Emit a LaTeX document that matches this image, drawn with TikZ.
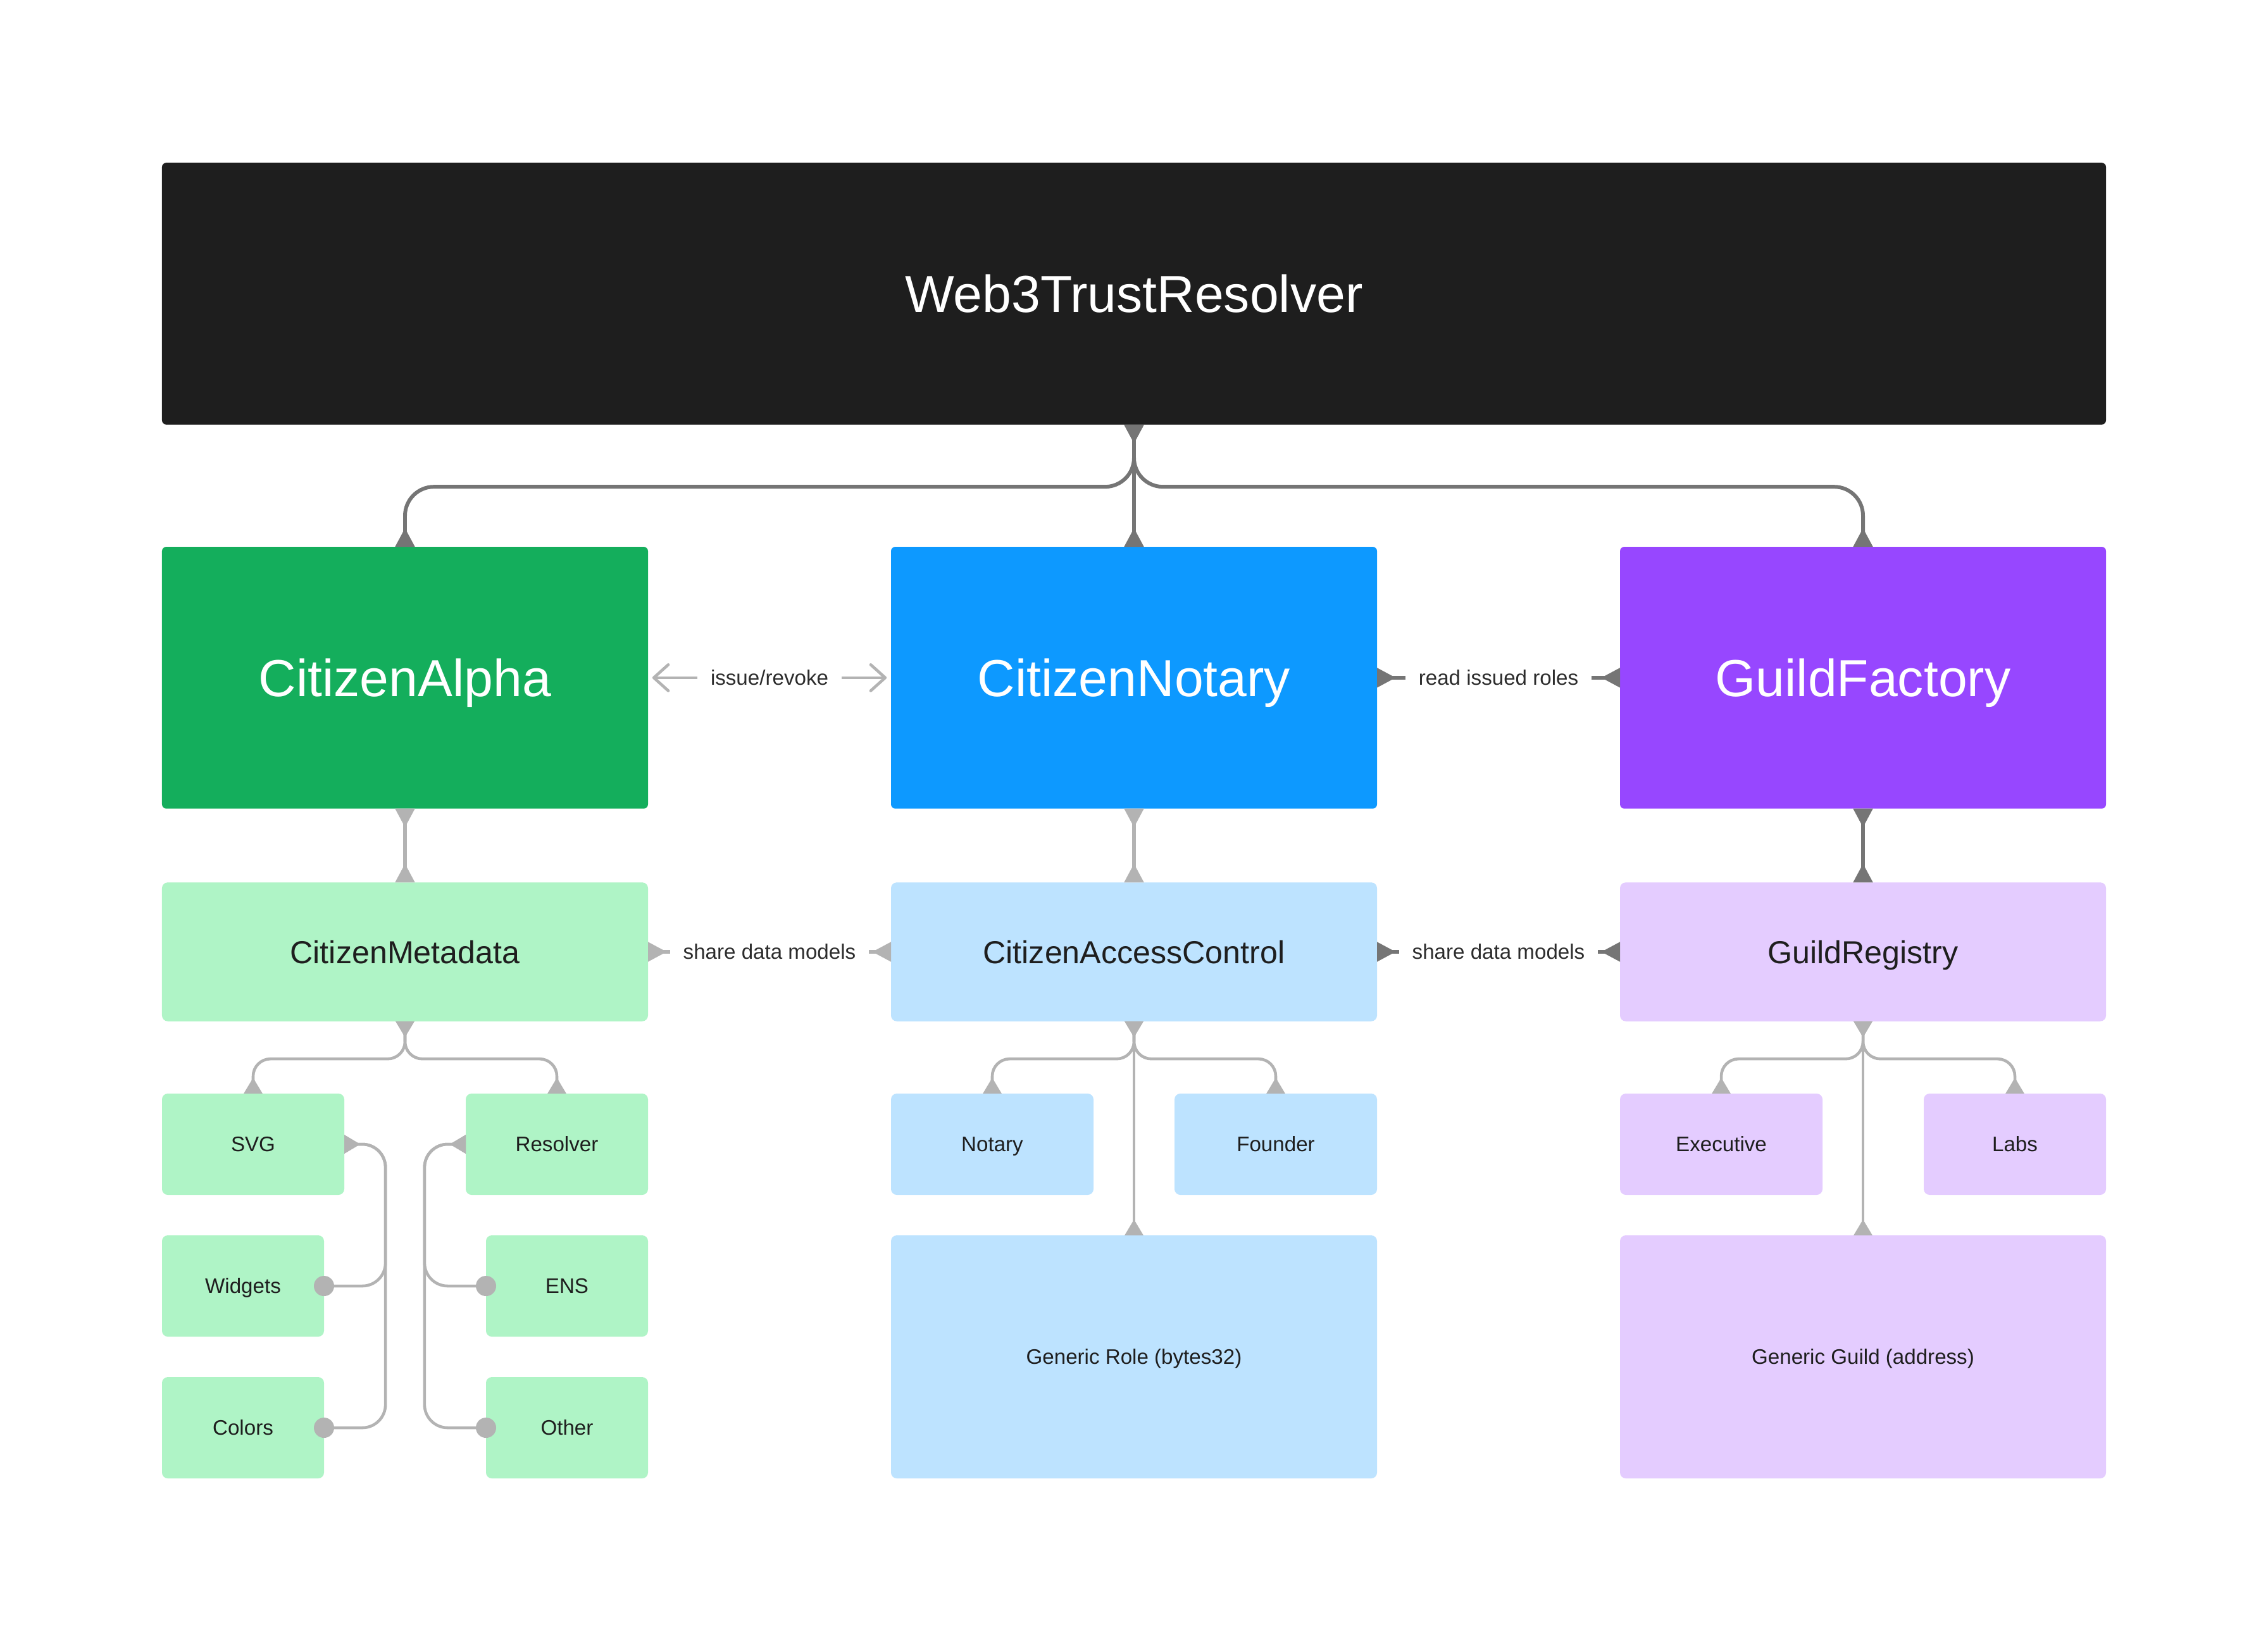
\documentclass[tikz,border=0pt]{standalone}
\usepackage{fontspec}
\setmainfont{Liberation Sans}
\usetikzlibrary{arrows.meta}

\definecolor{ink}{HTML}{1E1E1E}
\definecolor{alphagreen}{HTML}{14AE5C}
\definecolor{notaryblue}{HTML}{0D99FF}
\definecolor{guildpurple}{HTML}{9747FF}
\definecolor{palegreen}{HTML}{AFF4C6}
\definecolor{paleblue}{HTML}{BDE3FF}
\definecolor{palepurple}{HTML}{E4CCFF}
\definecolor{darkline}{HTML}{757575}
\definecolor{lightline}{HTML}{B3B3B3}
\definecolor{labeltext}{HTML}{2C2C2C}

\tikzset{
  tri/.tip={Triangle[reversed, length=2.6mm, width=2.6mm]},
  smalltri/.tip={Triangle[reversed, length=2.2mm, width=2.5mm]},
  barb/.tip={Straight Barb[length=2mm, width=3.6mm, round]},
}

\begin{document}
\begin{tikzpicture}
  [x=0.2mm, y=-0.2mm,
   root/.style={fill=ink, text=white, rounded corners=0.6mm, outer sep=0pt,
     minimum width=268.8mm, minimum height=36.2mm, text height=14.7pt, text depth=0pt,
     font=\fontsize{20.5}{24}\selectfont},
   core/.style={text=white, rounded corners=0.6mm, outer sep=0pt,
     minimum width=67.2mm, minimum height=36.2mm, text height=14.7pt, text depth=0pt,
     font=\fontsize{20.5}{24}\selectfont},
   store/.style={text=ink, rounded corners=0.8mm, outer sep=0pt,
     minimum width=67.2mm, minimum height=19.2mm, text height=8.95pt, text depth=0pt,
     font=\fontsize{12.5}{15}\selectfont},
   leaf/.style={text=ink, rounded corners=0.8mm, outer sep=0pt,
     minimum height=14mm, text height=5.9pt, text depth=0pt,
     font=\fontsize{8.25}{10}\selectfont},
   link/.style={draw=darkline, line width=0.52mm, {tri}-{tri}},
   softlink/.style={draw=lightline, line width=0.52mm, {tri}-{tri}},
   branch/.style={draw=lightline, line width=0.4mm, {smalltri}-{smalltri}, rounded corners=2.4mm},
   tag/.style={fill=white, text=labeltext, inner xsep=1.8mm, inner ysep=1.5mm,
     text height=5.9pt, text depth=0pt, font=\fontsize{8.25}{10}\selectfont}]

  \fill[white] (0,0) rectangle (1568,1134);
  \useasboundingbox (0,0) rectangle (1568,1134);

  \node[root] (resolver) at (784,203) {Web3TrustResolver};

  \node[core, fill=alphagreen] (alpha) at (280,468.5) {CitizenAlpha};
  \node[core, fill=notaryblue] (notary) at (784,468.5) {CitizenNotary};
  \node[core, fill=guildpurple] (factory) at (1288,468.5) {GuildFactory};

  \node[store, fill=palegreen] (metadata) at (280,658) {CitizenMetadata};
  \node[store, fill=paleblue] (access) at (784,658) {CitizenAccessControl};
  \node[store, fill=palepurple] (registry) at (1288,658) {GuildRegistry};

  % metadata parts
  \node[leaf, fill=palegreen, minimum width=25.2mm] (svg) at (175,791) {SVG};
  \node[leaf, fill=palegreen, minimum width=25.2mm] (resolverpart) at (385,791) {Resolver};
  \node[leaf, fill=palegreen, minimum width=22.4mm] (widgets) at (168,889) {Widgets};
  \node[leaf, fill=palegreen, minimum width=22.4mm] (ens) at (392,889) {ENS};
  \node[leaf, fill=palegreen, minimum width=22.4mm] (colors) at (168,987) {Colors};
  \node[leaf, fill=palegreen, minimum width=22.4mm] (other) at (392,987) {Other};

  % roles
  \node[leaf, fill=paleblue, minimum width=28mm] (notaryrole) at (686,791) {Notary};
  \node[leaf, fill=paleblue, minimum width=28mm] (founder) at (882,791) {Founder};
  \node[leaf, fill=paleblue, minimum width=67.2mm, minimum height=33.6mm] (role) at (784,938) {Generic Role (bytes32)};

  % guilds
  \node[leaf, fill=palepurple, minimum width=28mm] (executive) at (1190,791) {Executive};
  \node[leaf, fill=palepurple, minimum width=25.2mm] (labs) at (1393,791) {Labs};
  \node[leaf, fill=palepurple, minimum width=67.2mm, minimum height=33.6mm] (guild) at (1288,938) {Generic Guild (address)};

  % resolver to the three contracts
  \draw[link, rounded corners=4mm] (resolver.south) -- ++(0,43) -| (alpha.north);
  \draw[link, rounded corners=4mm] (resolver.south) -- ++(0,43) -| (factory.north);
  \draw[link] (resolver.south) -- (notary.north);

  % contracts to their data
  \draw[softlink] (alpha.south) -- (metadata.north);
  \draw[softlink] (notary.south) -- (access.north);
  \draw[link] (factory.south) -- (registry.north);

  % side links
  \draw[draw=lightline, line width=0.4mm, {barb}-{barb}, shorten <=0.6mm, shorten >=0.6mm]
    (alpha.east) -- node[tag] {issue/revoke} (notary.west);
  \draw[link] (notary.east) -- node[tag] {read issued roles} (factory.west);
  \draw[softlink] (metadata.east) -- node[tag] {share data models} (access.west);
  \draw[link] (access.east) -- node[tag] {share data models} (registry.west);

  % branches
  \foreach \part in {svg, resolverpart}
    \draw[branch] (metadata.south) -- ++(0,26) -| (\part.north);
  \foreach \part in {notaryrole, founder}
    \draw[branch] (access.south) -- ++(0,26) -| (\part.north);
  \foreach \part in {executive, labs}
    \draw[branch] (registry.south) -- ++(0,26) -| (\part.north);
  \draw[branch] (access.south) -- (role.north);
  \draw[branch] (registry.south) -- (guild.north);

  % lists
  \foreach \part in {widgets, colors} {
    \draw[branch, -{smalltri}, rounded corners=3.2mm]
      (\part.east) -| ([xshift=5.7mm]svg.east) -- (svg.east);
    \fill[lightline] (\part.east) circle[radius=1.4mm];
  }
  \foreach \part in {ens, other} {
    \draw[branch, -{smalltri}, rounded corners=3.2mm]
      (\part.west) -| ([xshift=-5.7mm]resolverpart.west) -- (resolverpart.west);
    \fill[lightline] (\part.west) circle[radius=1.4mm];
  }
\end{tikzpicture}
\end{document}
